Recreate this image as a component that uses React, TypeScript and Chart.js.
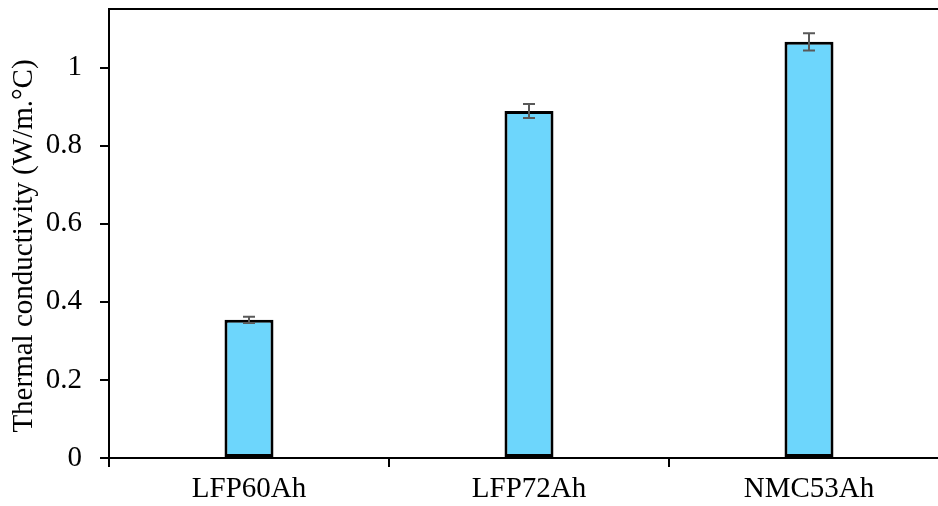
import React, { useEffect, useRef } from 'react';
import { Chart, registerables } from 'chart.js';

Chart.register(...registerables);

const categories = ['LFP60Ah', 'LFP72Ah', 'NMC53Ah'];
const conductivity = [0.354, 0.889, 1.066];
const errors = [0.008, 0.018, 0.022];
const yTicks = [0, 0.2, 0.4, 0.6, 0.8, 1];
const yTitle = 'Thermal conductivity (W/m.\u00B0C)';

const FONT = '"Liberation Serif", "Times New Roman", serif';

const errorBarPlugin = {
  id: 'errorBars',
  afterDatasetsDraw(chart: any) {
    const ctx = chart.ctx;
    const meta = chart.getDatasetMeta(0);
    const y = chart.scales.y;
    ctx.save();
    ctx.strokeStyle = '#595959';
    ctx.lineWidth = 2;
    meta.data.forEach((bar: any, i: number) => {
      const x = bar.x;
      const top = y.getPixelForValue(conductivity[i] + errors[i]);
      const bot = y.getPixelForValue(conductivity[i] - errors[i]);
      ctx.beginPath();
      ctx.moveTo(x, top);
      ctx.lineTo(x, bot);
      ctx.moveTo(x - 6, top);
      ctx.lineTo(x + 6, top);
      ctx.moveTo(x - 6, bot);
      ctx.lineTo(x + 6, bot);
      ctx.stroke();
    });
    ctx.restore();
  },
};

const framePlugin = {
  id: 'frame',
  afterDraw(chart: any) {
    const ctx = chart.ctx;
    const a = chart.chartArea;
    ctx.save();
    ctx.strokeStyle = '#000';
    ctx.lineWidth = 2;
    ctx.beginPath();
    ctx.moveTo(a.left, a.top);
    ctx.lineTo(a.right, a.top);
    ctx.lineTo(a.right, a.bottom);
    ctx.stroke();
    // y axis title
    ctx.translate(24, 246);
    ctx.rotate(-Math.PI / 2);
    ctx.fillStyle = '#000';
    ctx.font = `29px ${FONT}`;
    ctx.textAlign = 'center';
    ctx.textBaseline = 'middle';
    ctx.fillText(yTitle, 0, 0);
    ctx.restore();
  },
};

export default function App() {
  const ref = useRef<HTMLCanvasElement>(null);
  useEffect(() => {
    if (!ref.current) return;
    const chart = new Chart(ref.current, {
      type: 'bar',
      data: {
        labels: categories,
        datasets: [
          {
            data: conductivity,
            backgroundColor: '#6dd6fc',
            borderColor: '#000',
            borderWidth: 3,
            borderSkipped: false,
            barPercentage: 0.7,
            categoryPercentage: 0.25,
          },
        ],
      },
      options: {
        responsive: false,
        animation: false,
        devicePixelRatio: 1,
        layout: { padding: { top: 9, right: 1, left: 0, bottom: 0 } },
        plugins: { legend: { display: false }, tooltip: { enabled: false } },
        scales: {
          x: {
            afterFit(scale: any) {
              scale.height = 48;
              scale.paddingLeft = 0;
              scale.paddingRight = 0;
            },
            grid: {
              display: true,
              drawOnChartArea: false,
              drawTicks: true,
              tickLength: 9,
              offset: true,
              color: '#000',
              lineWidth: 2,
            },
            border: { display: true, color: '#000', width: 2 },
            ticks: {
              color: '#000',
              font: { family: FONT, size: 29 },
              padding: 5,
              maxRotation: 0,
            },
          },
          y: {
            min: 0,
            max: 1.15,
            afterFit(scale: any) {
              scale.width = 109;
              scale.paddingTop = 0;
              scale.paddingBottom = 0;
            },
            afterBuildTicks(scale: any) {
              scale.ticks = yTicks.map((v) => ({ value: v }));
            },
            grid: {
              display: true,
              drawOnChartArea: false,
              drawTicks: true,
              tickLength: 9,
              color: '#000',
              lineWidth: 2,
            },
            border: { display: true, color: '#000', width: 2 },
            ticks: {
              color: '#000',
              font: { family: FONT, size: 29 },
              padding: 18,
              callback: (v: any) => String(Number(Number(v).toFixed(1))),
            },
          },
        },
      },
      plugins: [errorBarPlugin, framePlugin],
    });
    return () => chart.destroy();
  }, []);
  return (
    <div
      style={{
        position: 'fixed',
        left: 0,
        top: 0,
        width: 938,
        height: 506,
        overflow: 'hidden',
        background: '#fff',
      }}
    >
      <canvas ref={ref} width={950} height={506} style={{ display: 'block' }} />
    </div>
  );
}
